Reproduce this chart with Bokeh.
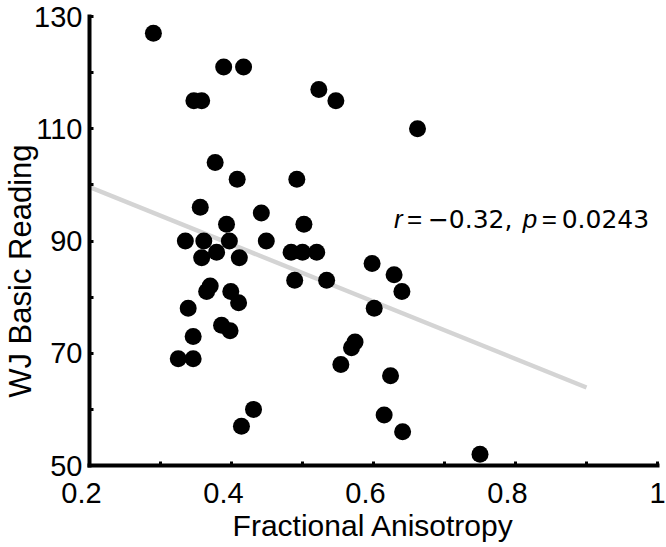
from bokeh.plotting import figure
from bokeh.models import Range1d, FixedTicker, Label
from bokeh.embed import file_html
from bokeh.resources import INLINE

# ---- data ----
FA = [0.290, 0.389, 0.417, 0.347, 0.358, 0.523, 0.547, 0.662, 0.377, 0.408,
      0.492, 0.356, 0.442, 0.393, 0.502, 0.335, 0.361, 0.397, 0.449, 0.379,
      0.358, 0.411, 0.484, 0.500, 0.520, 0.489, 0.534, 0.370, 0.365, 0.399,
      0.410, 0.339, 0.386, 0.398, 0.346, 0.325, 0.346, 0.431, 0.414, 0.554,
      0.569, 0.574, 0.598, 0.629, 0.640, 0.601, 0.624, 0.615, 0.641, 0.750]
WJ = [127, 121, 121, 115, 115, 117, 115, 110, 104, 101,
      101, 96, 95, 93, 93, 90, 90, 90, 90, 88,
      87, 87, 88, 88, 88, 83, 83, 82, 81, 81,
      79, 78, 75, 74, 73, 69, 69, 60, 57, 68,
      71, 72, 86, 84, 81, 78, 66, 59, 56, 52]

FIT_X = [0.2, 0.9]
FIT_Y = [99.6, 63.9]

X_TICKS = [0.2, 0.4, 0.6, 0.8, 1.0]
X_TICK_LABELS = ["0.2", "0.4", "0.6", "0.8", "1"]
X_MINOR = [0.3, 0.5, 0.7, 0.9]
Y_TICKS = [50, 70, 90, 110, 130]
Y_MINOR = [60, 80, 100, 120]

X_LABEL = "Fractional Anisotropy"
Y_LABEL = "WJ Basic Reading"
# annotation pieces: (text, kind, x position in data units)
STAT_PARTS = [("r", "ital", 0.6288), ("=", "sym", 0.6471), ("\u22120.32,", "num", 0.6766),
              ("p", "ital", 0.8102), ("=", "sym", 0.8369), ("0.0243", "num", 0.8650)]
STAT_Y = 93.9

FONT = "Liberation Sans"
NUM_FONT = "DejaVu Sans"

p = figure(width=666, height=547, x_range=Range1d(0.2, 1.0), y_range=Range1d(50, 130),
           output_backend="svg", toolbar_location=None,
           min_border_left=88, min_border_right=9, min_border_top=16, min_border_bottom=82)
p.outline_line_color = None
p.grid.visible = False
p.background_fill_color = "white"
p.border_fill_color = "white"

# regression line under points
p.line(FIT_X, FIT_Y, line_color="#d4d4d4", line_width=4.5)
p.scatter(FA, WJ, size=17, fill_color="black", line_color=None)

for ax in (p.xaxis[0], p.yaxis[0]):
    ax.axis_line_width = 4
    ax.axis_line_color = "black"
    ax.axis_line_cap = "square"
    ax.major_tick_in = 4
    ax.major_tick_out = 0
    ax.minor_tick_in = 4
    ax.minor_tick_out = 0
    ax.major_tick_line_width = 3
    ax.minor_tick_line_width = 3
    ax.major_label_text_font = FONT
    ax.major_label_text_font_size = "29px"
    ax.major_label_text_color = "black"
    ax.axis_label_text_font = FONT
    ax.axis_label_text_font_style = "normal"
    ax.axis_label_text_color = "black"

p.xaxis.ticker = FixedTicker(ticks=X_TICKS, minor_ticks=X_MINOR)
p.yaxis.ticker = FixedTicker(ticks=Y_TICKS, minor_ticks=Y_MINOR)
overrides = {}
for t, lab in zip(X_TICKS, X_TICK_LABELS):
    overrides[t] = lab if "." not in lab else lab + "\u2007"
p.xaxis.major_label_overrides = overrides
p.xaxis.major_label_standoff = 11
p.yaxis.major_label_standoff = 7

p.xaxis.axis_label = X_LABEL
p.xaxis.axis_label_text_font_size = "30px"
p.xaxis.axis_label_standoff = -3

p.yaxis.axis_label = Y_LABEL + "\u00a0" * 7
p.yaxis.axis_label_text_font_size = "31px"
p.yaxis.axis_label_standoff = -7

for txt, kind, xpos in STAT_PARTS:
    p.add_layout(Label(x=xpos, y=STAT_Y, text=txt, text_align="left",
                       text_baseline="alphabetic",
                       text_font=NUM_FONT if kind == "num" else FONT,
                       text_font_size="25px" if kind == "num" else "26px",
                       text_font_style="italic" if kind == "ital" else "normal",
                       text_color="black"))

open("out.html", "w").write(file_html(p, INLINE))
